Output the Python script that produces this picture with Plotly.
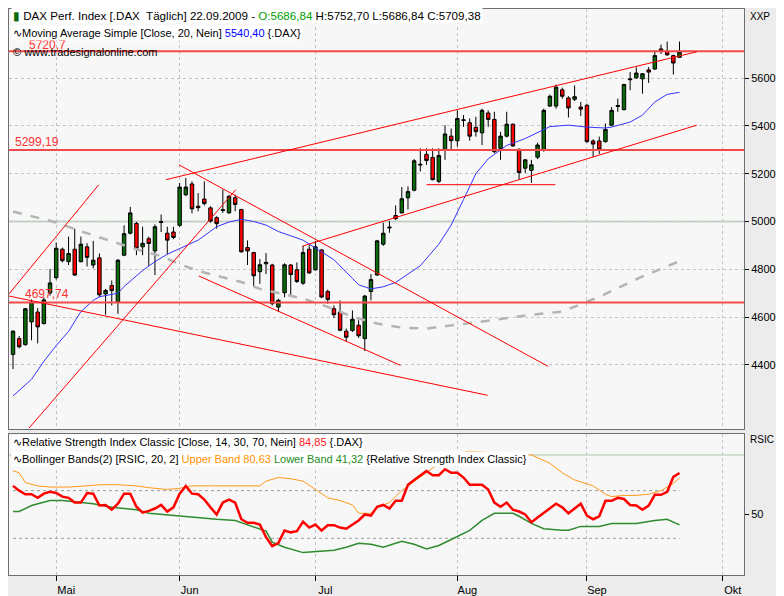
import plotly.graph_objects as go
import pandas as pd

# Handelstage (Xetra, 1. Mai geschlossen) bis Anfang Oktober fuer die Achse
days = [d for d in pd.bdate_range("2009-04-22", "2009-10-01") if d != pd.Timestamp("2009-05-01")]
month_pos = [i for i in range(1, len(days)) if days[i].month != days[i - 1].month]
month_labels = ["Mai", "Jun", "Jul", "Aug", "Sep", "Okt"]

# DAX daily candles
open_ = [4444, 4510, 4485, 4580, 4621, 4573, 4701, 4765, 4884, 4832,
         4884, 4832, 4894, 4818, 4848, 4697, 4732, 4663, 4859, 4951,
         4992, 4894, 4928, 4877, 4996, 4951, 4956, 4984, 5112, 5157,
         5064, 5094, 5057, 5016, 5046, 5036, 5099, 5050, 4891, 4870,
         4790, 4823, 4818, 4642, 4702, 4818, 4798, 4742, 4884, 4798,
         4881, 4707, 4635, 4621, 4541, 4544, 4566, 4510, 4707, 4776,
         4905, 4973, 5025, 5036, 5099, 5131, 5236, 5281, 5268, 5168,
         5302, 5357, 5338, 5423, 5413, 5394, 5371, 5454, 5427, 5306,
         5357, 5407, 5302, 5223, 5214, 5269, 5299, 5483, 5483, 5551,
         5517, 5511, 5479, 5486, 5337, 5337, 5334, 5403, 5481, 5468,
         5593, 5601, 5597, 5634, 5638, 5722, 5712, 5694, 5686.84]
high = [4545, 4521, 4638, 4674, 4638, 4683, 4801, 4912, 4891, 4937,
        4970, 4937, 4909, 4919, 4866, 4718, 4753, 4843, 4984, 5061,
        4998, 4978, 4937, 4988, 5029, 4978, 4978, 5161, 5182, 5168,
        5119, 5168, 5064, 5022, 5133, 5112, 5112, 5053, 4921, 4873,
        4843, 4868, 4823, 4677, 4825, 4822, 4829, 4898, 4901, 4919,
        4884, 4715, 4649, 4670, 4552, 4628, 4587, 4693, 4780, 4923,
        4995, 5002, 5067, 5144, 5147, 5261, 5306, 5306, 5306, 5306,
        5403, 5389, 5465, 5445, 5431, 5438, 5472, 5465, 5459, 5375,
        5459, 5410, 5306, 5261, 5258, 5330, 5472, 5531, 5573, 5560,
        5524, 5569, 5500, 5493, 5344, 5355, 5410, 5479, 5514, 5576,
        5625, 5645, 5621, 5646, 5715, 5740, 5753, 5698, 5752.70]
low = [4383, 4469, 4480, 4503, 4490, 4569, 4690, 4757, 4829, 4818,
       4773, 4829, 4812, 4804, 4683, 4610, 4649, 4614, 4855, 4946,
       4859, 4859, 4815, 4776, 4956, 4863, 4926, 4978, 5106, 5034,
       5043, 5067, 4995, 4970, 5036, 5033, 5043, 4870, 4818, 4729,
       4739, 4780, 4649, 4621, 4683, 4684, 4743, 4735, 4780, 4794,
       4679, 4656, 4596, 4541, 4497, 4538, 4513, 4458, 4670, 4773,
       4898, 4953, 5006, 5034, 5050, 5126, 5209, 5237, 5172, 5161,
       5258, 5299, 5313, 5396, 5338, 5355, 5320, 5396, 5286, 5258,
       5352, 5313, 5175, 5203, 5161, 5261, 5292, 5479, 5472, 5514,
       5435, 5504, 5441, 5330, 5269, 5283, 5330, 5399, 5459, 5465,
       5549, 5597, 5535, 5580, 5634, 5701, 5694, 5615, 5686.84]
close = [4541, 4476, 4635, 4663, 4559, 4672, 4743, 4888, 4836, 4866,
         4776, 4905, 4850, 4838, 4693, 4711, 4711, 4838, 4949, 5036,
         4888, 4909, 4908, 4978, 4999, 4922, 4933, 5144, 5144, 5053,
         5058, 5075, 5002, 4991, 5049, 5105, 5071, 4873, 4877, 4773,
         4819, 4829, 4656, 4670, 4819, 4778, 4749, 4870, 4785, 4894,
         4684, 4674, 4610, 4545, 4516, 4591, 4522, 4688, 4757, 4919,
         4951, 4976, 5012, 5095, 5125, 5254, 5239, 5255, 5175, 5276,
         5366, 5338, 5431, 5425, 5357, 5376, 5465, 5427, 5292, 5357,
         5407, 5316, 5205, 5258, 5237, 5320, 5465, 5524, 5562, 5524,
         5475, 5522, 5470, 5334, 5324, 5302, 5385, 5465, 5485, 5573,
         5596, 5621, 5618, 5625, 5694, 5712, 5697, 5663, 5709.38]
bars = list(range(len(close)))

# Moving Average Simple (20)
ma_idx = [0, 3, 5, 7, 9, 11, 13, 14, 17, 18, 21, 23, 25, 28, 30, 33, 35, 37, 39, 41,
          43, 47, 50, 52, 55, 56, 58, 60, 62, 66, 69, 71, 73, 75, 77, 80, 83, 87, 90,
          93, 96, 97, 100, 102, 104, 106, 108]
ma_val = [4270, 4340, 4415, 4481, 4540, 4623, 4670, 4685, 4700, 4728, 4795, 4832, 4863,
          4898, 4922, 4978, 4998, 5009, 5000, 4985, 4958, 4922, 4873, 4840, 4762, 4735,
          4718, 4727, 4745, 4815, 4905, 4985, 5092, 5200, 5262, 5318, 5347, 5397, 5403,
          5395, 5391, 5395, 5416, 5445, 5500, 5532, 5540.40]

# grey dashed long average
slow_idx = [0, 3, 7, 11, 14, 20, 24, 27, 30, 34, 37, 40, 47, 51, 55, 59, 63, 67, 71,
            77, 84, 89, 95, 102, 108]
slow_val = [5042, 5021, 4996, 4959, 4934, 4884, 4855, 4822, 4793, 4768, 4747, 4718,
            4677, 4643, 4602, 4573, 4556, 4552, 4564, 4585, 4610, 4623, 4685, 4770, 4834]

# horizontal levels (drawn position) and their labels
levels = [5712, 5299, 4661]
level_labels = ["5720,7", "5299,19", "4697,74"]

# trend lines: (bar0, price0, bar1, price1)
trendlines = [
    (24.8, 5175, 110.8, 5710),
    (46.9, 4897, 110.8, 5403),
    (67.0, 5154, 87.9, 5154),
    (26.9, 5237, 86.7, 4394),
    (30.1, 4772, 62.8, 4398),
    (-0.65, 4688, 76.9, 4273),
    (-0.65, 4697, 13.9, 5154),
    (2.6, 4136, 36.1, 5133),
]

# RSI Classic (14)
rsi = [74, 70, 67, 67, 64, 67.5, 69, 68, 65, 64,
       60, 60, 68, 67.5, 57.5, 58, 54, 59, 67.5, 67.5,
       56.5, 51.5, 53, 55, 58, 52.5, 56, 67.5, 74, 67.5,
       67, 62.5, 56, 50, 60, 62.5, 60, 46, 43, 43,
       41.5, 31, 23.5, 26, 36.5, 35, 36, 44, 39, 41.5,
       36.5, 41, 41, 39, 38, 41.5, 45, 50, 49, 56.5,
       58, 55, 61.5, 61.5, 75, 79, 82.5, 86.5, 83, 83,
       88, 85, 85, 81, 75, 75, 75, 71, 60, 56.5,
       60, 54, 52.5, 50, 43.5, 47.5, 51.5, 55, 59, 56,
       51, 55, 59, 49, 46, 48.5, 61.5, 61.5, 64, 63,
       58, 57.5, 54, 57.5, 66.5, 66.5, 69, 81.5, 84.85]

# Bollinger Bands on RSI
upper_idx = [0, 1, 2, 4, 6, 9, 12, 14, 17, 20, 22, 25, 27, 29, 32, 36, 40, 41, 43, 45,
             47, 49, 51, 53, 55, 56, 58, 59, 61, 63, 66, 68, 70, 72, 74, 76, 84, 87, 89,
             91, 94, 96, 97, 99, 101, 103, 105, 107, 108]
upper_val = [86.7, 85, 76.7, 74, 73, 73, 74, 75, 75, 74, 72.5, 71, 72, 74, 74, 74, 74, 78,
             81, 80, 78, 71, 64, 61.7, 58, 51, 51, 56, 60, 70, 81, 89, 97.5, 101.7, 103,
             102.5, 100, 93, 85, 79, 74, 67, 65, 66, 66, 67, 70, 76, 80.63]
lower_idx = [0, 1, 3, 6, 8, 11, 13, 16, 20, 22, 26, 30, 33, 36, 39, 41, 42, 44, 47, 49,
             52, 54, 56, 58, 60, 63, 65, 67, 69, 71, 74, 76, 78, 81, 82, 84, 86, 89, 90,
             92, 95, 97, 101, 104, 106, 108]
lower_val = [52.5, 52.5, 57.5, 61.7, 61.7, 60, 59, 56, 54, 51, 49, 47.5, 46, 45, 40, 36,
             26.7, 22.5, 18, 19, 20, 22.5, 25.8, 25, 22.5, 27.5, 25, 21, 24, 29, 36.7, 45,
             51, 51, 48.5, 42.5, 38, 36.7, 36.7, 40, 40, 42.5, 42.5, 45, 46, 41.32]
rsi_levels = [70, 30]

# the page body has an 8px margin, so the figure starts at screen (8, 8)
# screen pixel helpers (plot area on screen: x 8..744, y 8..578)
def px(x):
    return (x - 8) / 736

def py(y):
    return (578 - y) / 570

GRID = "#c4c4c4"
FRAME = "#6e6e6e"
RED = "#ff0000"

fig = go.Figure()

fig.add_trace(go.Candlestick(
    x=bars, open=open_, high=high, low=low, close=close,
    increasing=dict(line=dict(color="black", width=1), fillcolor="#0b6b0b"),
    decreasing=dict(line=dict(color="black", width=1), fillcolor="#ff0000"),
    whiskerwidth=0, hoverinfo="skip", xaxis="x", yaxis="y"
))
fig.add_trace(go.Scatter(x=slow_idx, y=slow_val, mode="lines",
                         line=dict(color="#b4b4b4", width=2.5, dash="dash"), xaxis="x", yaxis="y"))
fig.add_trace(go.Scatter(x=ma_idx, y=ma_val, mode="lines",
                         line=dict(color="#3535ff", width=1), xaxis="x", yaxis="y"))

# RSI panel
for lv in rsi_levels:
    fig.add_trace(go.Scatter(x=[bars[0], bars[-1]], y=[lv, lv], mode="lines",
                             line=dict(color="#9a9a9a", width=1, dash="dot"), xaxis="x2", yaxis="y2"))
fig.add_trace(go.Scatter(x=upper_idx, y=upper_val, mode="lines",
                         line=dict(color="#ff9a1a", width=1), xaxis="x2", yaxis="y2"))
fig.add_trace(go.Scatter(x=lower_idx, y=lower_val, mode="lines",
                         line=dict(color="#2e8b2e", width=1.5), xaxis="x2", yaxis="y2"))
fig.add_trace(go.Scatter(x=bars, y=rsi, mode="lines",
                         line=dict(color="#ff0000", width=2.5), xaxis="x2", yaxis="y2"))

shapes = []
shapes.append(dict(type="line", xref="paper", x0=0, x1=1, yref="y", y0=5000, y1=5000,
                   line=dict(color="#c6d6c6", width=2), layer="below"))
shapes.append(dict(type="line", xref="paper", x0=0, x1=1, yref="y2", y0=100, y1=100,
                   line=dict(color="#c6d6c6", width=1.5), layer="below"))
for lv in levels:
    shapes.append(dict(type="line", xref="paper", x0=0, x1=1, yref="y", y0=lv, y1=lv,
                       line=dict(color="#f24a4a", width=2)))
for x0, y0, x1, y1 in trendlines:
    shapes.append(dict(type="line", xref="x", yref="y", x0=x0, y0=y0, x1=x1, y1=y1,
                       line=dict(color=RED, width=1)))

ann = []
label_pos = [(26, 44), (12, 142), (22, 295)]
for (lx, ly), txt in zip(label_pos, level_labels):
    ann.append(dict(x=px(lx), y=py(ly), text=txt, font=dict(color="#ff3030", size=12)))

ann.append(dict(x=px(10), y=py(15), bgcolor="white", font=dict(size=11.6),
                text="<span style='color:#0b6b0b'>▮</span> DAX Perf. Index [.DAX  Täglich] 22.09.2009 - "
                     "<span style='color:#00a000'>O:5686,84</span> H:5752,70 L:5686,84 C:5709,38"))
ann.append(dict(x=px(10), y=py(32), bgcolor="white",
                text="∿Moving Average Simple [Close, 20, Nein] "
                     "<span style='color:#0000ff'>5540,40</span> {.DAX}"))
ann.append(dict(x=px(10), y=py(51), text="© www.tradesignalonline.com"))
ann.append(dict(x=px(10), y=py(444), bgcolor="white",
                text="∿Relative Strength Index Classic [Close, 14, 30, 70, Nein] "
                     "<span style='color:#ff2020'>84,85</span> {.DAX}"))
ann.append(dict(x=px(10), y=py(461), bgcolor="white",
                text="∿Bollinger Bands(2) [RSIC, 20, 2] "
                     "<span style='color:#ff9000'>Upper Band 80,63</span> "
                     "<span style='color:#228b22'>Lower Band 41,32</span> {Relative Strength Index Classic}"))
ann.append(dict(x=px(748), y=py(16), text="XXP", font=dict(size=10)))
ann.append(dict(x=px(748), y=py(442), text="RSIC", font=dict(size=10)))
for a in ann:
    a.update(xref="paper", yref="paper", xanchor="left", yanchor="middle",
             showarrow=False, borderpad=1)

axis_common = dict(showline=True, mirror=True, linecolor=FRAME, linewidth=1, zeroline=False)

fig.update_layout(
    width=776, height=588,
    margin=dict(l=0, r=40, t=0, b=18),
    paper_bgcolor="#ececec",
    plot_bgcolor="#f7f7f7",
    font=dict(family="Liberation Sans, Arial, sans-serif", size=11, color="black"),
    showlegend=False,
    boxgap=0.2,
    shapes=shapes,
    annotations=ann,
    xaxis=dict(domain=[0, 1], anchor="y", range=[-0.65, 118.45], tickvals=month_pos,
               showticklabels=False, ticks="", showgrid=True, gridcolor=GRID, griddash="dot",
               rangeslider=dict(visible=False), **axis_common),
    yaxis=dict(domain=[0.258, 1], anchor="x", range=[4132, 5889], side="right",
               tickvals=[4400, 4600, 4800, 5000, 5200, 5400, 5600],
               ticks="outside", ticklen=4, tickcolor="black",
               showgrid=True, gridcolor=GRID, griddash="dot", **axis_common),
    xaxis2=dict(domain=[0, 1], anchor="y2", matches="x", tickvals=month_pos, ticktext=month_labels,
                ticks="outside", ticklen=5, tickcolor="black", ticklabelshift=10,
                showgrid=True, gridcolor=GRID, griddash="dot", **axis_common),
    yaxis2=dict(domain=[0, 0.249], anchor="x2", range=[-0.8, 117.5], side="right",
                tickvals=[50], ticks="outside", ticklen=4, tickcolor="black",
                showgrid=False, **axis_common),
)

fig.write_html("out.html")
